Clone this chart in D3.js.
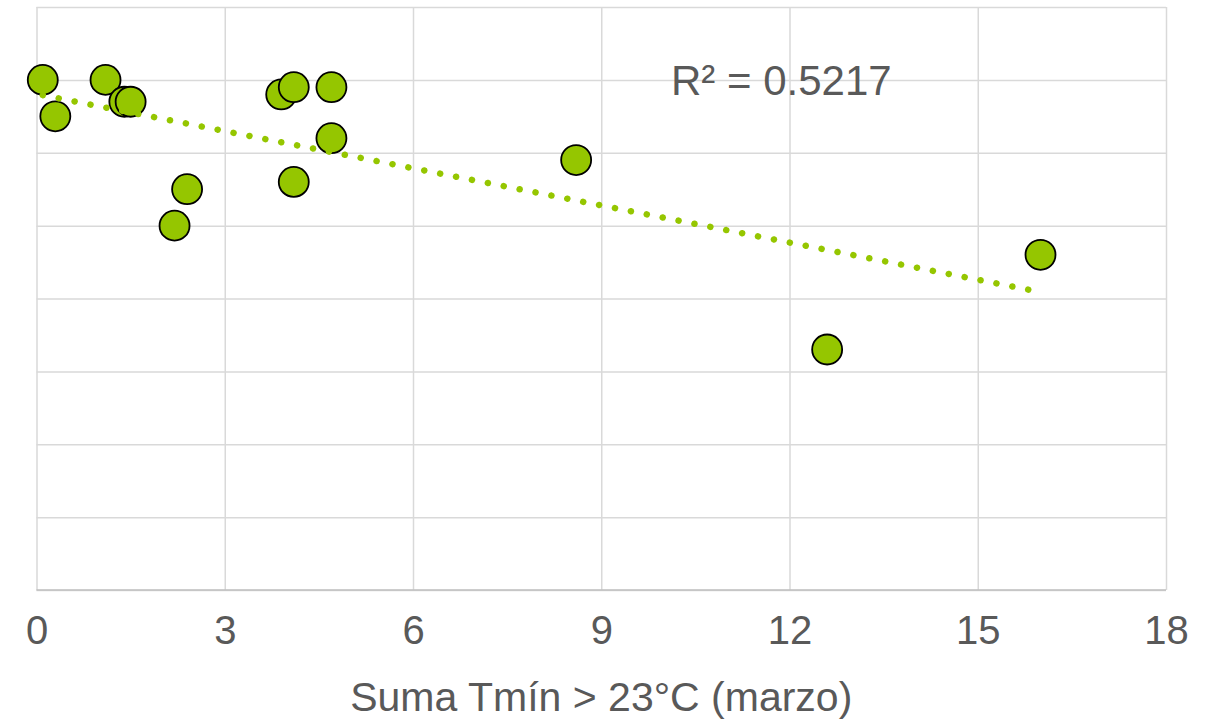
<!DOCTYPE html>
<html>
<head>
<meta charset="utf-8">
<script src="https://cdn.jsdelivr.net/npm/d3@7"></script>
<style>
  body { margin: 0; background: #fff; }
  text { font-family: Arial, "Liberation Sans", sans-serif; fill: #595959; }
</style>
</head>
<body>
<div id="chart"></div>
<script>
// valores
const sumaTmin = [0.1, 0.3, 1.1, 1.4, 1.5, 2.2, 2.4, 3.9, 4.1, 4.7, 4.7, 4.1, 8.6, 12.6, 16.0];
const valorY   = [7.0, 6.5, 7.0, 6.7, 6.7, 5.0, 5.5, 6.8, 6.9, 6.9, 6.2, 5.6, 5.9, 3.3, 4.6];
const xTicks = [0, 3, 6, 9, 12, 15, 18];
const yTicks = [0, 1, 2, 3, 4, 5, 6, 7, 8];
const xTitle = "Suma Tmín > 23°C (marzo)";
const r2Label = "R² = 0.5217";

function drawScatter(tagName, xSize = 1211, ySize = 721) {
    const left = 36.5, right = 1166, top = 7, bottom = 590;

    const data = sumaTmin.map((x, i) => [x, valorY[i]]);

    const svg = d3.select(tagName)
        .append('svg')
        .attr('width', xSize)
        .attr('height', ySize);

    const xScale = d3.scaleLinear().domain([0, 18]).range([left, right]);
    const yScale = d3.scaleLinear().domain([0, 8]).range([bottom, top]);

    // Grid horizontal
    svg.append('g')
        .attr('transform', `translate(${left}, 0)`)
        .call(d3.axisLeft(yScale).tickValues(yTicks).tickSize(-(right - left)).tickFormat(''))
        .call(g => g.select('.domain').remove())
        .selectAll('line')
        .attr('stroke', '#d9d9d9')
        .attr('stroke-width', 1.5);

    // Grid vertical + etiquetas eje X
    const xAxis = svg.append('g')
        .attr('transform', `translate(0, ${bottom})`)
        .call(d3.axisBottom(xScale).tickValues(xTicks).tickSize(-(bottom - top)).tickPadding(26));
    xAxis.select('.domain').remove();
    xAxis.selectAll('line')
        .attr('stroke', '#d9d9d9')
        .attr('stroke-width', 1.5);
    xAxis.selectAll('text')
        .style('font-size', '40px')
        .attr('fill', '#595959')
        .attr('dy', '0.71em');

    // linea base
    svg.append('line')
        .attr('x1', left).attr('x2', right)
        .attr('y1', bottom).attr('y2', bottom)
        .attr('stroke', '#bfbfbf')
        .attr('stroke-width', 1.5);

    // Puntos
    svg.append('g')
        .selectAll('circle')
        .data(data)
        .enter()
        .append('circle')
        .attr('cx', d => xScale(d[0]))
        .attr('cy', d => yScale(d[1]))
        .attr('r', 15)
        .attr('fill', '#95c600')
        .attr('stroke', '#000')
        .attr('stroke-width', 1.8);

    // Linea de tendencia (minimos cuadrados)
    const mx = d3.mean(sumaTmin), my = d3.mean(valorY);
    const sxy = d3.sum(data, d => (d[0] - mx) * (d[1] - my));
    const sxx = d3.sum(data, d => (d[0] - mx) ** 2);
    const slope = sxy / sxx;
    const intercept = my - slope * mx;
    const [x0, x1] = d3.extent(sumaTmin);
    svg.append('path')
        .datum([x0, x1])
        .attr('d', d3.line().x(d => xScale(d)).y(d => yScale(intercept + slope * d)))
        .attr('fill', 'none')
        .attr('stroke', '#95c600')
        .attr('stroke-width', 6.5)
        .attr('stroke-linecap', 'round')
        .attr('stroke-dasharray', '0.1 16.1');

    // R2
    svg.append('text')
        .attr('x', 671)
        .attr('y', 95)
        .style('font-size', '42px')
        .text(r2Label);

    // Titulo eje X
    svg.append('text')
        .attr('x', (left + right) / 2)
        .attr('y', 711)
        .attr('text-anchor', 'middle')
        .style('font-size', '41px')
        .text(xTitle);
}

drawScatter('#chart');
</script>
</body>
</html>
